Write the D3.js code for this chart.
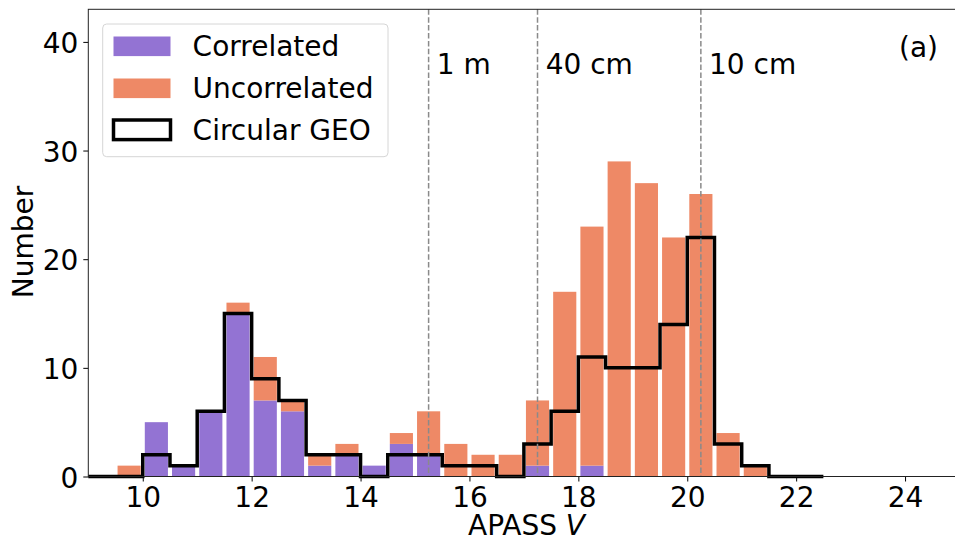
<!DOCTYPE html>
<html>
<head>
<meta charset="utf-8">
<script src="https://cdn.jsdelivr.net/npm/d3@7"></script>
<style>
  html, body { margin: 0; padding: 0; background: #fff; overflow: hidden; }
  svg { display: block; font-family: "DejaVu Sans", sans-serif; }
</style>
</head>
<body>
<svg id="chart" width="955" height="541"></svg>
<script>
// ---- data ----
const binWidth = 0.5;
const barBinStarts = [9.5, 10.0, 10.5, 11.0, 11.5, 12.0, 12.5, 13.0, 13.5, 14.0, 14.5, 15.0,
                      15.5, 16.0, 16.5, 17.0, 17.5, 18.0, 18.5, 19.0, 19.5, 20.0, 20.5, 21.0];
const correlated   = [0, 5, 1, 6, 15, 7, 6, 1, 2, 1, 3, 2, 0, 0, 0, 1, 0, 1, 0, 0, 0, 0, 0, 0];
const uncorrelated = [1, 0, 0, 0, 1, 4, 1, 1, 1, 0, 1, 4, 3, 2, 2, 6, 17, 22, 29, 27, 22, 26, 4, 1];
const geoBinStarts = [9.0, 9.5, 10.0, 10.5, 11.0, 11.5, 12.0, 12.5, 13.0, 13.5, 14.0, 14.5, 15.0,
                      15.5, 16.0, 16.5, 17.0, 17.5, 18.0, 18.5, 19.0, 19.5, 20.0, 20.5, 21.0, 21.5, 22.0];
const circularGEO  = [0, 0, 2, 1, 6, 15, 9, 7, 2, 2, 0, 2, 2, 1, 1, 0, 3, 6, 11, 10, 10, 14, 22, 3, 1, 0, 0];
const sizeLines    = [15.25, 17.25, 20.25];
const sizeLabels   = ["1 m", "40 cm", "10 cm"];
const xTicks = [10, 12, 14, 16, 18, 20, 22, 24];
const yTicks = [0, 10, 20, 30, 40];
const seriesNames = ["Correlated", "Uncorrelated", "Circular GEO"];

// ---- style ----
const colCorr = "#9373d3";
const colUnc  = "#ee8966";
const fontSize = 28;
const rwidth = 0.85;

const svg = d3.select("#chart");
const mLeft = 88.3, mRight = 959.5, mTop = 9.3, mBottom = 476.5;
const x = d3.scaleLinear().domain([9, 25]).range([mLeft, mRight]);
const y = d3.scaleLinear().domain([0, 43]).range([mBottom, mTop]);

const plot = svg.append("g");
const bw = (x(binWidth) - x(0)) * rwidth;

// stacked bars
plot.selectAll("rect.corr").data(barBinStarts).enter().append("rect")
  .attr("class", "corr")
  .attr("x", (d) => x(d + binWidth / 2) - bw / 2)
  .attr("width", bw)
  .attr("y", (d, i) => y(correlated[i]))
  .attr("height", (d, i) => y(0) - y(correlated[i]))
  .attr("fill", colCorr);

plot.selectAll("rect.unc").data(barBinStarts).enter().append("rect")
  .attr("class", "unc")
  .attr("x", (d) => x(d + binWidth / 2) - bw / 2)
  .attr("width", bw)
  .attr("y", (d, i) => y(correlated[i] + uncorrelated[i]))
  .attr("height", (d, i) => y(correlated[i]) - y(correlated[i] + uncorrelated[i]))
  .attr("fill", colUnc);

// step histogram
const pts = [[geoBinStarts[0], 0]];
geoBinStarts.forEach((s, i) => { pts.push([s, circularGEO[i]]); pts.push([s + binWidth, circularGEO[i]]); });
pts.push([geoBinStarts[geoBinStarts.length - 1] + binWidth, 0]);
plot.append("path")
  .attr("d", d3.line().x(d => x(d[0])).y(d => y(d[1]))(pts))
  .attr("fill", "none").attr("stroke", "#000").attr("stroke-width", 3.5)
  .attr("stroke-linejoin", "miter");

// dashed size lines + labels
sizeLines.forEach((v, i) => {
  svg.append("line")
    .attr("x1", x(v)).attr("x2", x(v)).attr("y1", mTop).attr("y2", mBottom)
    .attr("stroke", "#8a8a8a").attr("stroke-width", 1.5)
    .attr("stroke-dasharray", "5.5,2.4");
  svg.append("text")
    .attr("x", x(v + 0.15)).attr("y", y(37))
    .attr("font-size", fontSize).attr("fill", "#000")
    .text(sizeLabels[i]);
});

// (a)
svg.append("text").attr("x", 938).attr("y", 56.5).attr("text-anchor", "end")
  .attr("font-size", fontSize).text("(a)");

// axes
const xAxis = svg.append("g").attr("transform", `translate(0,${mBottom})`)
  .call(d3.axisBottom(x).tickValues(xTicks).tickSize(5).tickPadding(5).tickFormat(d3.format("d")));
const yAxis = svg.append("g").attr("transform", `translate(${mLeft},0)`)
  .call(d3.axisLeft(y).tickValues(yTicks).tickSize(5).tickPadding(5).tickFormat(d3.format("d")));
[xAxis, yAxis].forEach(a => {
  a.select(".domain").remove();
  a.selectAll(".tick line").attr("stroke", "#000").attr("stroke-width", 1);
  a.selectAll(".tick text").attr("font-size", fontSize).attr("font-family", "DejaVu Sans").attr("fill", "#000");
});
xAxis.selectAll(".tick text").attr("dy", null).attr("y", 30.2);
yAxis.selectAll(".tick text").attr("dy", null).attr("y", 10.5);

// spines
svg.append("rect").attr("x", mLeft).attr("y", mTop).attr("width", mRight - mLeft).attr("height", mBottom - mTop)
  .attr("fill", "none").attr("stroke", "#222").attr("stroke-width", 1);

// axis labels
const xl = svg.append("text").attr("x", 468).attr("y", 535).attr("font-size", fontSize);
xl.append("tspan").text("APASS ");
xl.append("tspan").attr("font-style", "italic").text("V");
svg.append("text").attr("transform", "translate(33,242) rotate(-90)")
  .attr("text-anchor", "middle").attr("font-size", fontSize).text("Number");

// legend
const lg = svg.append("g");
lg.append("rect").attr("x", 102.7).attr("y", 24).attr("width", 285.3).attr("height", 132.7)
  .attr("rx", 4).attr("fill", "#fff").attr("fill-opacity", 0.8).attr("stroke", "#d6d6d6").attr("stroke-width", 1);
const rowY = [46.3, 88.3, 129.8];
const swatch = [
  { fill: colCorr, stroke: "none" },
  { fill: colUnc, stroke: "none" },
  { fill: "none", stroke: "#000" }
];
seriesNames.forEach((name, i) => {
  lg.append("rect").attr("x", 113.5).attr("y", rowY[i] - 9.8).attr("width", 57).attr("height", 19.6)
    .attr("fill", swatch[i].fill).attr("stroke", swatch[i].stroke).attr("stroke-width", 3.5);
  lg.append("text").attr("x", 192.6).attr("y", rowY[i] + 10).attr("font-size", fontSize).text(name);
});
</script>
</body>
</html>
